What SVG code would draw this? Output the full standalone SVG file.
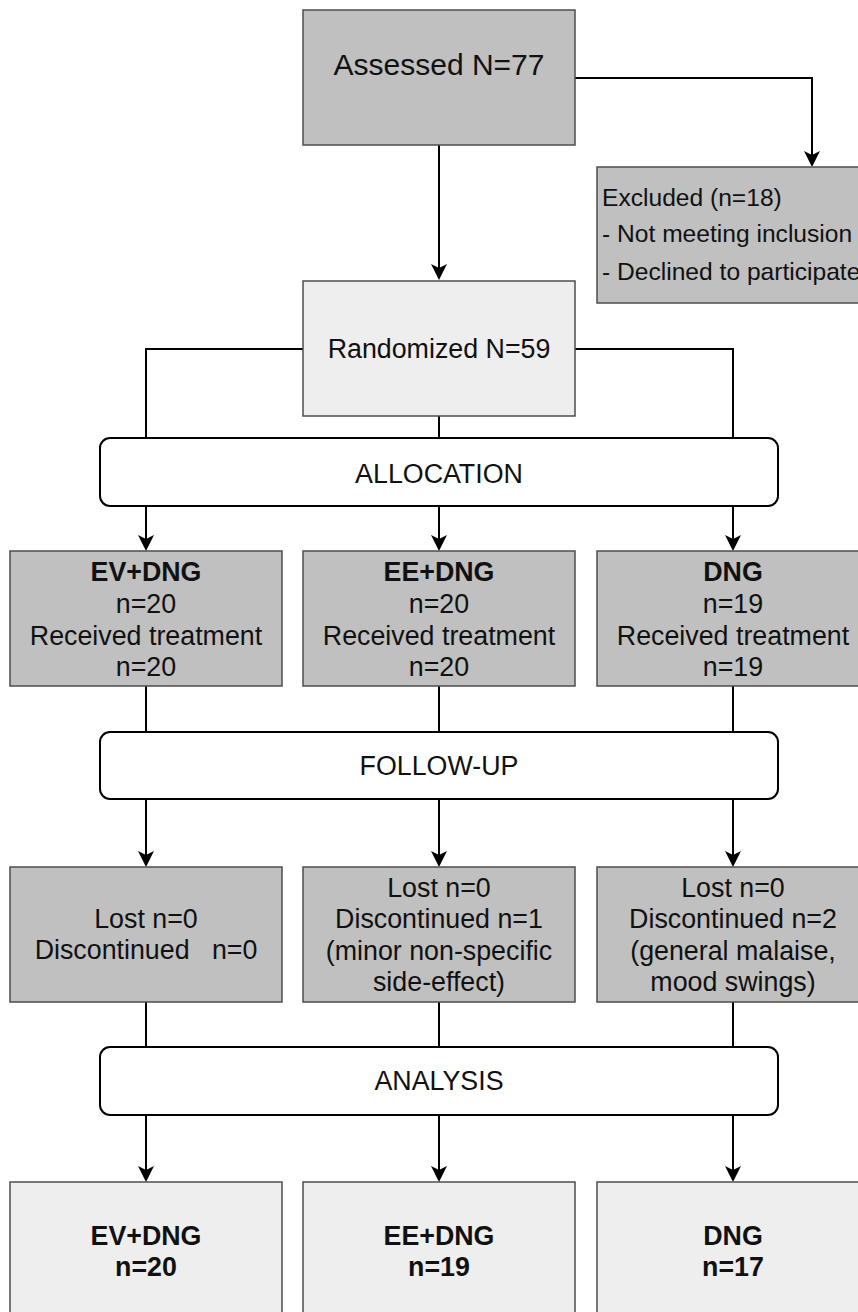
<svg xmlns="http://www.w3.org/2000/svg" width="858" height="1312" viewBox="0 0 858 1312">
<style>
.dark{fill:#c0c0c0;stroke:#4d4d4d;stroke-width:1.5}
.light{fill:#eeeeee;stroke:#4d4d4d;stroke-width:1.5}
.stage{fill:#ffffff;stroke:#000000;stroke-width:2}
.t{font-family:"Liberation Sans",Arial,Helvetica,sans-serif;font-size:26.8px;fill:#111;text-anchor:middle;white-space:pre}
.b{font-weight:bold}
.ex{font-family:"Liberation Sans",Arial,Helvetica,sans-serif;font-size:24.6px;fill:#111;text-anchor:start}
.c{fill:none;stroke:#000;stroke-width:2}
.a{fill:none;stroke:#000;stroke-width:2;marker-end:url(#arr)}
</style>
<defs>
<marker id="arr" viewBox="0 0 16 16" refX="14" refY="8" markerWidth="16" markerHeight="16" markerUnits="userSpaceOnUse" orient="auto">
<path d="M0,0 L16,8 L0,16 L4,8 Z" fill="#000"/>
</marker>
</defs>
<rect width="858" height="1312" fill="#ffffff"/>

<g id="connectors">
<path class="a" d="M439,145 V278"/>
<path class="a" d="M575,78 H812 V165"/>
<path class="c" d="M303,349 H146 V438"/>
<path class="c" d="M575,349 H733 V438"/>
<path class="c" d="M439,416 V438"/>
<path class="a" d="M146,506 V549"/>
<path class="a" d="M439,506 V549"/>
<path class="a" d="M733,506 V549"/>
<path class="c" d="M146,686 V732"/>
<path class="c" d="M439,686 V732"/>
<path class="c" d="M733,686 V732"/>
<path class="a" d="M146,799 V865"/>
<path class="a" d="M439,799 V865"/>
<path class="a" d="M733,799 V865"/>
<path class="c" d="M146,1002 V1047"/>
<path class="c" d="M439,1002 V1047"/>
<path class="c" d="M733,1002 V1047"/>
<path class="a" d="M146,1115 V1180"/>
<path class="a" d="M439,1115 V1180"/>
<path class="a" d="M733,1115 V1180"/>
</g>

<g id="assessed">
<rect class="dark" x="303" y="10" width="272" height="135"/>
<text class="t" x="439" y="75" style="font-size:30px">Assessed N=77</text>
</g>

<g id="excluded">
<rect class="dark" x="597" y="167" width="272" height="136"/>
<text class="ex" x="602" y="206">Excluded (n=18)</text>
<text class="ex" x="602" y="242">- Not meeting inclusion</text>
<text class="ex" x="602" y="280">- Declined to participate</text>
</g>

<g id="randomized">
<rect class="light" x="303" y="281" width="272" height="135"/>
<text class="t" x="439" y="358">Randomized N=59</text>
</g>

<g id="allocation">
<rect class="stage" x="100" y="438" width="678" height="68" rx="10"/>
<text class="t" x="439" y="483">ALLOCATION</text>
</g>

<g id="alloc-ev">
<rect class="dark" x="10" y="551" width="272" height="135"/>
<text class="t b" x="146" y="581">EV+DNG</text>
<text class="t" x="146" y="613">n=20</text>
<text class="t" x="146" y="645">Received treatment</text>
<text class="t" x="146" y="676">n=20</text>
</g>

<g id="alloc-ee">
<rect class="dark" x="303" y="551" width="272" height="135"/>
<text class="t b" x="439" y="581">EE+DNG</text>
<text class="t" x="439" y="613">n=20</text>
<text class="t" x="439" y="645">Received treatment</text>
<text class="t" x="439" y="676">n=20</text>
</g>

<g id="alloc-dng">
<rect class="dark" x="597" y="551" width="272" height="135"/>
<text class="t b" x="733" y="581">DNG</text>
<text class="t" x="733" y="613">n=19</text>
<text class="t" x="733" y="645">Received treatment</text>
<text class="t" x="733" y="676">n=19</text>
</g>

<g id="followup">
<rect class="stage" x="100" y="732" width="678" height="67" rx="10"/>
<text class="t" x="439" y="775">FOLLOW-UP</text>
</g>

<g id="follow-ev">
<rect class="dark" x="10" y="867" width="272" height="135"/>
<text class="t" x="146" y="928">Lost n=0</text>
<text class="t" x="146" y="959">Discontinued   n=0</text>
</g>

<g id="follow-ee">
<rect class="dark" x="303" y="867" width="272" height="135"/>
<text class="t" x="439" y="897">Lost n=0</text>
<text class="t" x="439" y="928">Discontinued n=1</text>
<text class="t" x="439" y="960">(minor non-specific</text>
<text class="t" x="439" y="991">side-effect)</text>
</g>

<g id="follow-dng">
<rect class="dark" x="597" y="867" width="272" height="135"/>
<text class="t" x="733" y="897">Lost n=0</text>
<text class="t" x="733" y="928">Discontinued n=2</text>
<text class="t" x="733" y="960">(general malaise,</text>
<text class="t" x="733" y="991">mood swings)</text>
</g>

<g id="analysis">
<rect class="stage" x="100" y="1047" width="678" height="68" rx="10"/>
<text class="t" x="439" y="1090">ANALYSIS</text>
</g>

<g id="final-ev">
<rect class="light" x="10" y="1182" width="272" height="140"/>
<text class="t b" x="146" y="1245">EV+DNG</text>
<text class="t b" x="146" y="1276">n=20</text>
</g>

<g id="final-ee">
<rect class="light" x="303" y="1182" width="272" height="140"/>
<text class="t b" x="439" y="1245">EE+DNG</text>
<text class="t b" x="439" y="1276">n=19</text>
</g>

<g id="final-dng">
<rect class="light" x="597" y="1182" width="272" height="140"/>
<text class="t b" x="733" y="1245">DNG</text>
<text class="t b" x="733" y="1276">n=17</text>
</g>
</svg>
